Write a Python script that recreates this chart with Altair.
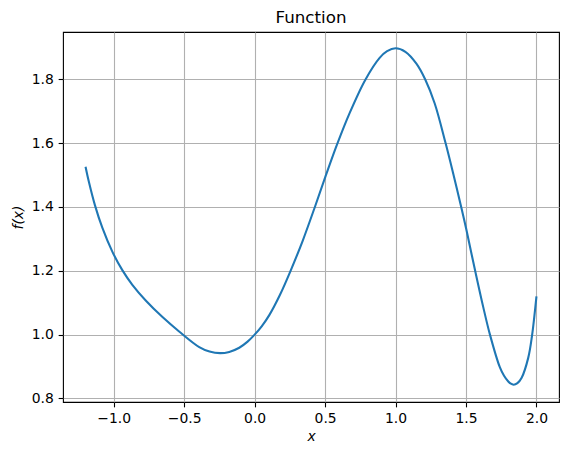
import altair as alt
import pandas as pd

xs = [-1.2, -1.176, -1.133, -1.081, -1.01, -0.939, -0.868, -0.773, -0.654, -0.536,
      -0.393, -0.32, -0.245, -0.18, -0.109, -0.05, 0.0, 0.05, 0.105, 0.18,
      0.255, 0.341, 0.43, 0.508, 0.585, 0.674, 0.785, 0.887, 0.94, 1.0,
      1.07, 1.148, 1.21, 1.278, 1.355, 1.41, 1.468, 1.504, 1.565, 1.622,
      1.67, 1.74, 1.77, 1.8, 1.815, 1.838, 1.865, 1.895, 1.942, 1.968, 2.0]
ys = [1.526, 1.478, 1.405, 1.335, 1.26, 1.202, 1.156, 1.107, 1.055, 1.01,
      0.961, 0.947, 0.942, 0.946, 0.959, 0.978, 1.0, 1.026, 1.062, 1.125,
      1.2, 1.294, 1.403, 1.502, 1.596, 1.694, 1.798, 1.867, 1.888, 1.897,
      1.886, 1.849, 1.8, 1.724, 1.6, 1.503, 1.396, 1.326, 1.2, 1.087,
      1.0, 0.898, 0.871, 0.853, 0.847, 0.843, 0.848, 0.865, 0.928, 0.995, 1.12]
x_ticks = [-1.0, -0.5, 0.0, 0.5, 1.0, 1.5, 2.0]
y_ticks = [0.8, 1.0, 1.2, 1.4, 1.6, 1.8]

df = pd.DataFrame({"x": xs, "y": ys})

lbl = "replace(format(datum.value, '.1f'), '-', '\u2212')"

chart = alt.Chart(df).mark_line(
    color="#1f77b4", strokeWidth=2.08, interpolate="catmull-rom"
).encode(
    x=alt.X("x:Q", scale=alt.Scale(domain=[-1.36, 2.16], nice=False, zero=False),
            axis=alt.Axis(title="x", values=x_ticks, labelExpr=lbl,
                          titleFontStyle="italic", titlePadding=4)),
    y=alt.Y("y:Q", scale=alt.Scale(domain=[0.789, 1.948], nice=False, zero=False),
            axis=alt.Axis(title="f(x)", values=y_ticks, labelExpr=lbl,
                          titleFontStyle="italic", titlePadding=6)),
).properties(
    width=496, height=370,
    title=alt.TitleParams("Function", fontSize=16.7, fontWeight="normal",
                          font="DejaVu Sans", color="black", offset=5),
    autosize=alt.AutoSizeParams(type="none"),
    padding={"left": 55, "top": 24, "right": 2, "bottom": 45},
).configure_axis(
    domain=False,
    grid=True, gridColor="#b0b0b0", gridWidth=1.1, gridOpacity=1,
    tickColor="black", tickWidth=1.1, tickSize=4.86,
    labelPadding=4.86, labelFont="DejaVu Sans", labelFontSize=13.9,
    labelColor="black", titleFont="DejaVu Sans", titleFontSize=13.9,
    titleFontWeight="normal", titleColor="black",
).configure_view(
    stroke="black", strokeWidth=1.1
)

chart.save("out.html", embed_options={"renderer": "svg", "actions": False})
